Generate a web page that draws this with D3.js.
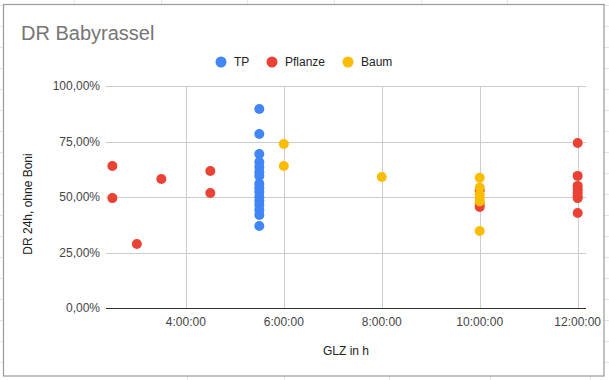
<!DOCTYPE html>
<html lang="en">
<head>
  <meta charset="UTF-8">
  <title>DR Babyrassel</title>
  <style>
    body {
      margin: 0;
      background-color: #fff;
      font-family: Arial, "Liberation Sans", sans-serif;
    }
    svg {
      display: block;
    }
  </style>
  <script src="https://d3js.org/d3.v7.min.js"></script>
</head>
<body>
  <svg width="609" height="380"></svg>

  <script>
    // GLZ in hours, DR as fraction
    const tpX = [5.5, 5.5, 5.5, 5.5, 5.5, 5.5, 5.5, 5.5, 5.5, 5.5, 5.5, 5.5, 5.5, 5.5, 5.5, 5.5];
    const tpY = [0.896, 0.784, 0.694, 0.658, 0.635, 0.613, 0.595, 0.559, 0.541, 0.523, 0.50, 0.482, 0.464, 0.441, 0.419, 0.369];

    const pflanzeX = [2.5, 2.5, 3.0, 3.5, 4.5, 4.5, 10, 10, 10, 12, 12, 12, 12, 12, 12, 12, 12];
    const pflanzeY = [0.64, 0.495, 0.288, 0.581, 0.617, 0.518, 0.53, 0.47, 0.455, 0.743, 0.595, 0.55, 0.535, 0.52, 0.505, 0.495, 0.428];

    const baumX = [6, 6, 8, 10, 10, 10, 10, 10, 10];
    const baumY = [0.739, 0.64, 0.59, 0.587, 0.543, 0.51, 0.495, 0.48, 0.347];

    const xTicks = [4, 6, 8, 10, 12];
    const yTicks = [0, 0.25, 0.5, 0.75, 1];

    const series = [
      { name: "TP", color: "#4285f4", xs: tpX, ys: tpY },
      { name: "Pflanze", color: "#ea4335", xs: pflanzeX, ys: pflanzeY },
      { name: "Baum", color: "#fbbc04", xs: baumX, ys: baumY }
    ];

    const svg = d3.select("svg");

    // spreadsheet cells behind the chart
    const bg = svg.append("g").attr("stroke", "#e6e6e6").attr("stroke-width", 1);
    d3.range(5, 380, 21).forEach(y => {
      bg.append("line").attr("x1", 0).attr("x2", 609).attr("y1", y + 0.5).attr("y2", y + 0.5);
    });
    [74, 161, 247, 334, 421, 507].forEach(x => {
      bg.append("line").attr("x1", x + 0.5).attr("x2", x + 0.5).attr("y1", 0).attr("y2", 5);
    });
    [187, 284, 389, 490, 590].forEach(x => {
      bg.append("line").attr("x1", x + 0.5).attr("x2", x + 0.5).attr("y1", 376).attr("y2", 380);
    });

    svg.append("rect")
      .attr("x", 3.5).attr("y", 4.5)
      .attr("width", 600.5).attr("height", 371.5)
      .attr("fill", "#fff")
      .attr("stroke", "#9a9a9a")
      .attr("stroke-width", 1.2);

    const x = d3.scaleLinear().domain([2.37, 12.17]).range([106, 586]);
    const y = d3.scaleLinear().domain([0, 1]).range([308, 86]);

    const fmtPct = d => d3.format(".2f")(d * 100).replace(".", ",") + "%";

    // gridlines
    svg.append("g")
      .selectAll("line")
      .data(yTicks.filter(d => d > 0))
      .join("line")
      .attr("x1", 106).attr("x2", 586)
      .attr("y1", d => Math.round(y(d)) + 0.5)
      .attr("y2", d => Math.round(y(d)) + 0.5)
      .attr("stroke", "#cccccc");

    svg.append("g")
      .selectAll("line")
      .data(xTicks)
      .join("line")
      .attr("x1", d => Math.round(x(d)) + 0.5)
      .attr("x2", d => Math.round(x(d)) + 0.5)
      .attr("y1", y(1)).attr("y2", y(0))
      .attr("stroke", "#cccccc");

    // baseline
    svg.append("line")
      .attr("x1", 106).attr("x2", 586)
      .attr("y1", y(0) + 0.5).attr("y2", y(0) + 0.5)
      .attr("stroke", "#333333");

    // tick labels
    svg.append("g")
      .selectAll("text")
      .data(yTicks)
      .join("text")
      .attr("x", 100)
      .attr("y", d => y(d) + 4)
      .attr("text-anchor", "end")
      .attr("font-size", 12)
      .attr("fill", "#444")
      .text(fmtPct);

    svg.append("g")
      .selectAll("text")
      .data(xTicks)
      .join("text")
      .attr("x", d => x(d))
      .attr("y", 326)
      .attr("text-anchor", "middle")
      .attr("font-size", 12)
      .attr("fill", "#444")
      .text(d => d + ":00:00");

    // axis titles
    svg.append("text")
      .attr("x", 346).attr("y", 355)
      .attr("text-anchor", "middle")
      .attr("font-size", 12)
      .attr("fill", "#222")
      .text("GLZ in h");

    svg.append("text")
      .attr("transform", "translate(32,204) rotate(-90)")
      .attr("text-anchor", "middle")
      .attr("font-size", 12)
      .attr("fill", "#222")
      .text("DR 24h, ohne Boni");

    // title
    svg.append("text")
      .attr("x", 21).attr("y", 40)
      .attr("font-size", 20)
      .attr("fill", "#757575")
      .text("DR Babyrassel");

    // legend
    const legendPos = [221, 272, 348];
    const legend = svg.append("g");
    series.forEach((s, i) => {
      legend.append("circle")
        .attr("cx", legendPos[i]).attr("cy", 62).attr("r", 5.5)
        .attr("fill", s.color);
      legend.append("text")
        .attr("x", legendPos[i] + 13).attr("y", 66)
        .attr("font-size", 12)
        .attr("fill", "#222")
        .text(s.name);
    });

    // points
    series.forEach(s => {
      svg.append("g")
        .selectAll("circle")
        .data(s.xs.map((xv, i) => [xv, s.ys[i]]))
        .join("circle")
        .attr("cx", d => x(d[0]))
        .attr("cy", d => y(d[1]))
        .attr("r", 5)
        .attr("fill", s.color);
    });
  </script>
</body>
</html>
